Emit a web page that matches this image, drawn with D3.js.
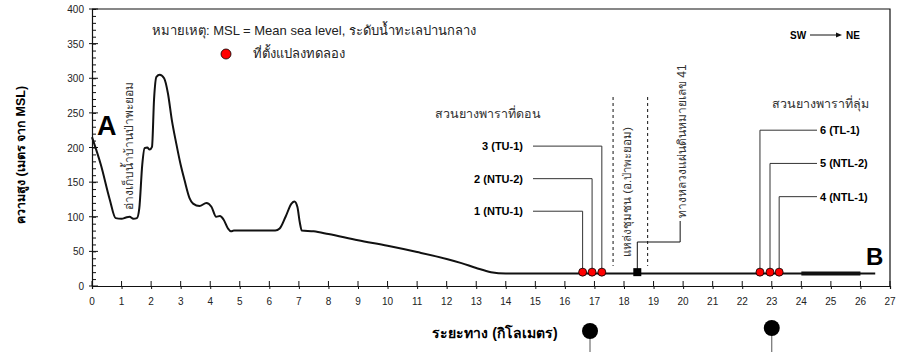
<!DOCTYPE html>
<html>
<head>
<meta charset="utf-8">
<script src="https://cdn.jsdelivr.net/npm/d3@7"></script>
<style>
  body { margin: 0; background: #fff; }
  svg { display: block; font-family: "Liberation Sans", Arial, "Noto Sans", sans-serif; }
</style>
</head>
<body>
<svg id="chart" width="900" height="352"></svg>
<script>
// elevation profile
var distKm = [0, 0.3, 0.6, 0.8, 1.0, 1.15, 1.27, 1.4, 1.52, 1.6, 1.7, 1.78, 1.87, 1.95, 2.03, 2.1, 2.18, 2.29, 2.44, 2.57, 2.7, 2.85, 3.0, 3.13, 3.3, 3.42, 3.64, 3.87, 4.04, 4.2, 4.33, 4.45, 4.6, 4.7, 4.8, 6.2, 6.35, 6.55, 6.75, 6.85, 6.95, 7.03, 7.1, 7.5, 8, 9, 10, 11, 12, 12.5, 13, 13.5, 14, 26.5]
var elevM = [215, 175, 125, 98, 97, 99, 100, 97, 98, 112, 175, 199, 200, 197, 201, 270, 302, 305, 300, 278, 240, 206, 175, 153, 127, 119, 115.5, 120, 114.5, 100, 101, 96, 83, 79, 80, 80, 83, 100, 119, 122, 114, 92, 80, 79, 75, 66, 58, 49, 39, 33, 26, 20, 18, 18]
var thickFrom = 24
var thickTo = 26

// experimental plots
var plotKm = [16.6, 16.92, 17.25, 23.25, 22.94, 22.6]
var plotNames = ['1 (NTU-1)', '2 (NTU-2)', '3 (TU-1)', '4 (NTL-1)', '5 (NTL-2)', '6 (TL-1)']
var plotLabelElev = [108, 155, 202, 129, 177, 225]
var plotElev = 20

var villageKm = [17.63, 18.8]
var roadKm = 18.45

var xTicks = d3.range(0, 28)
var yTicks = d3.range(0, 401, 50)

var svg = d3.select('#chart')
var x = d3.scaleLinear().domain([0, 27]).range([92, 890])
var y = d3.scaleLinear().domain([0, 400]).range([286, 9])

var ink = '#111'
var grey = '#333'

// frame
svg.append('path')
  .attr('d', 'M' + x(0) + ',' + y(400) + 'H' + x(27) + 'V' + y(0))
  .attr('fill', 'none').attr('stroke', ink).attr('stroke-width', 1.2)

// x axis
var xAxis = svg.append('g').attr('transform', 'translate(0,' + y(0) + ')')
xAxis.call(d3.axisBottom(x).tickValues(d3.range(0, 27.01, 0.2)).tickSize(-3).tickFormat(''))
xAxis.call(d3.axisBottom(x).tickValues(xTicks).tickSize(3).tickFormat(''))
xAxis.selectAll('.domain').attr('stroke', ink).attr('stroke-width', 1.2)
xAxis.selectAll('line').attr('stroke', ink)
svg.append('g').selectAll('line.xin').data(xTicks).enter().append('line')
  .attr('x1', d => x(d)).attr('x2', d => x(d))
  .attr('y1', y(0)).attr('y2', y(0) - 5).attr('stroke', ink)
svg.append('g').selectAll('text').data(xTicks).enter().append('text')
  .attr('x', d => x(d)).attr('y', 305)
  .attr('text-anchor', 'middle').attr('font-size', 10).attr('fill', '#222')
  .text(d => d)

// y axis
var yAxis = svg.append('g').attr('transform', 'translate(' + x(0) + ',0)')
yAxis.call(d3.axisLeft(y).tickValues(d3.range(0, 401, 10)).tickSize(-4).tickFormat(''))
yAxis.selectAll('.domain').attr('stroke', ink).attr('stroke-width', 1.2)
yAxis.selectAll('line').attr('stroke', ink)
svg.append('g').selectAll('line').data(yTicks).enter().append('line')
  .attr('x1', x(0) - 3).attr('x2', x(0) + 6)
  .attr('y1', d => y(d)).attr('y2', d => y(d)).attr('stroke', ink)
svg.append('g').selectAll('text').data(yTicks).enter().append('text')
  .attr('x', 84).attr('y', d => y(d) + 4)
  .attr('text-anchor', 'end').attr('font-size', 10).attr('fill', '#222')
  .text(d => d)

// axis titles
svg.append('text')
  .attr('transform', 'translate(25,155) rotate(-90)')
  .attr('text-anchor', 'middle').attr('font-size', 12.5).attr('font-weight', 'bold')
  .text('ความสูง (เมตร จาก MSL)')
svg.append('text')
  .attr('x', 495).attr('y', 338)
  .attr('text-anchor', 'middle').attr('font-size', 14).attr('font-weight', 'bold')
  .text('ระยะทาง (กิโลเมตร)')

// profile
var profile = distKm.map((d, i) => [d, elevM[i]])
var line = d3.line().x(d => x(d[0])).y(d => y(d[1])).curve(d3.curveMonotoneX)
svg.append('path').datum(profile)
  .attr('d', line).attr('fill', 'none').attr('stroke', ink).attr('stroke-width', 2)
svg.append('line')
  .attr('x1', x(thickFrom)).attr('x2', x(thickTo))
  .attr('y1', y(18)).attr('y2', y(18))
  .attr('stroke', ink).attr('stroke-width', 4)

// A / B
svg.append('text').attr('x', 97).attr('y', 135)
  .attr('font-size', 27).attr('font-weight', 'bold').text('A')
svg.append('text').attr('x', 866).attr('y', 265)
  .attr('font-size', 24).attr('font-weight', 'bold').text('B')

// reservoir label
svg.append('text')
  .attr('transform', 'translate(133,146) rotate(-90)')
  .attr('text-anchor', 'middle').attr('font-size', 12).attr('fill', '#333')
  .text('อ่างเก็บน้ำบ้านป่าพะยอม')

// village dashed lines and label
svg.append('g').selectAll('line').data(villageKm).enter().append('line')
  .attr('x1', d => x(d)).attr('x2', d => x(d))
  .attr('y1', 97).attr('y2', y(29))
  .attr('stroke', ink).attr('stroke-dasharray', '3,3')
svg.append('text')
  .attr('transform', 'translate(631,192) rotate(-90)')
  .attr('text-anchor', 'middle').attr('font-size', 11.5).attr('fill', '#333')
  .text('แหล่งชุมชน (อ.ป่าพะยอม)')

// highway marker
svg.append('path')
  .attr('d', 'M' + x(roadKm) + ',' + y(plotElev) + 'V242H' + x(19.9) + 'V221')
  .attr('fill', 'none').attr('stroke', ink)
svg.append('rect')
  .attr('x', x(roadKm) - 4).attr('y', y(plotElev) - 4)
  .attr('width', 8).attr('height', 8).attr('fill', '#000')
svg.append('text')
  .attr('transform', 'translate(686,218) rotate(-90)')
  .attr('text-anchor', 'start').attr('font-size', 12).attr('fill', '#333')
  .text('ทางหลวงแผ่นดินหมายเลข 41')

// plot callouts
var left = plotKm.slice(0, 3).map((k, i) => ({ k: k, name: plotNames[i], e: plotLabelElev[i], side: 'L' }))
var right = plotKm.slice(3).map((k, i) => ({ k: k, name: plotNames[i + 3], e: plotLabelElev[i + 3], side: 'R' }))
var callouts = left.concat(right)
svg.append('g').selectAll('path').data(callouts).enter().append('path')
  .attr('d', d => d.side === 'L'
    ? 'M533,' + y(d.e) + 'H' + x(d.k) + 'V' + y(plotElev)
    : 'M817,' + y(d.e) + 'H' + x(d.k) + 'V' + y(plotElev))
  .attr('fill', 'none').attr('stroke', grey).attr('stroke-width', 1)
svg.append('g').selectAll('text').data(callouts).enter().append('text')
  .attr('x', d => d.side === 'L' ? 523 : 820)
  .attr('y', d => y(d.e) + 4)
  .attr('text-anchor', d => d.side === 'L' ? 'end' : 'start')
  .attr('font-size', 11).attr('font-weight', 'bold')
  .text(d => d.name)
svg.append('g').selectAll('circle').data(plotKm).enter().append('circle')
  .attr('cx', d => x(d)).attr('cy', y(plotElev)).attr('r', 4)
  .attr('fill', '#ff0000').attr('stroke', '#000').attr('stroke-width', 0.8)

svg.append('text').attr('x', 488).attr('y', 118)
  .attr('text-anchor', 'middle').attr('font-size', 12.5).attr('fill', '#333')
  .text('สวนยางพาราที่ดอน')
svg.append('text').attr('x', 820).attr('y', 108)
  .attr('text-anchor', 'middle').attr('font-size', 12.5).attr('fill', '#333')
  .text('สวนยางพาราที่ลุ่ม')

// note and legend
svg.append('text').attr('x', 152).attr('y', 35)
  .attr('font-size', 13).attr('fill', '#222')
  .text('หมายเหตุ:  MSL = Mean sea level, ระดับน้ำทะเลปานกลาง')
svg.append('circle').attr('cx', 226).attr('cy', 54).attr('r', 5)
  .attr('fill', '#ff0000').attr('stroke', '#000').attr('stroke-width', 0.8)
svg.append('text').attr('x', 253).attr('y', 58)
  .attr('font-size', 13).attr('fill', '#222')
  .text('ที่ตั้งแปลงทดลอง')

// direction
svg.append('text').attr('x', 790).attr('y', 39)
  .attr('font-size', 10).attr('font-weight', 'bold').text('SW')
svg.append('line').attr('x1', 810).attr('x2', 838).attr('y1', 35).attr('y2', 35)
  .attr('stroke', ink)
svg.append('path').attr('d', 'M842,35L836,32.5V37.5Z').attr('fill', ink)
svg.append('text').attr('x', 846).attr('y', 39)
  .attr('font-size', 10).attr('font-weight', 'bold').text('NE')

// location pins below the axis
var pinKm = [16.85, 23.0]
var pinY = [331, 328]
svg.append('g').selectAll('line').data(pinKm).enter().append('line')
  .attr('x1', d => x(d)).attr('x2', d => x(d))
  .attr('y1', (d, i) => pinY[i]).attr('y2', 352)
  .attr('stroke', '#555')
svg.append('g').selectAll('circle').data(pinKm).enter().append('circle')
  .attr('cx', d => x(d)).attr('cy', (d, i) => pinY[i]).attr('r', 8)
  .attr('fill', '#000')
</script>
</body>
</html>
